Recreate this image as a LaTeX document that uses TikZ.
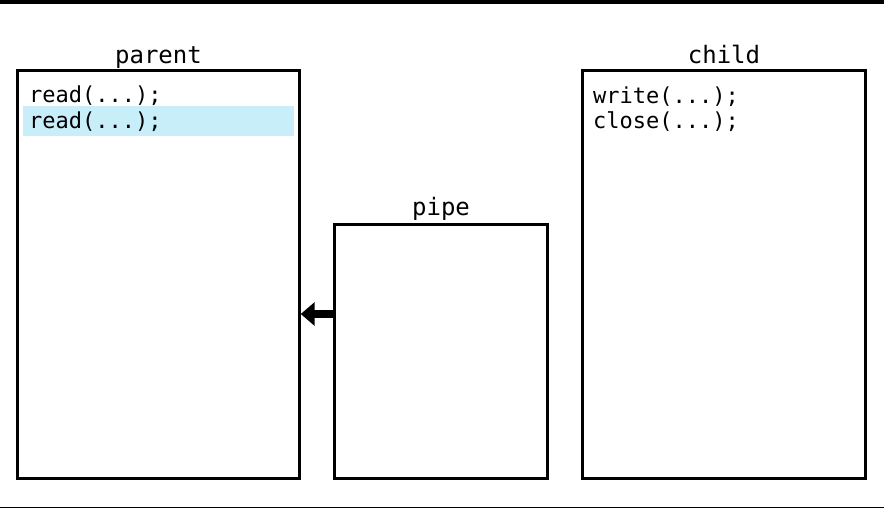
\documentclass[tikz,border=0pt]{standalone}
\usepackage{fontspec}
\setmonofont{DejaVu Sans Mono}
\usetikzlibrary{arrows.meta}
\definecolor{hl}{HTML}{C8EEFA}
\tikzset{
  box/.style={draw=black, line width=3pt, anchor=north west, inner sep=0pt, outer sep=0pt, fill=white},
  lbl/.style={font=\fontsize{24}{28}\selectfont\ttfamily, anchor=base, inner sep=0pt},
  code/.style={font=\fontsize{22}{26}\selectfont\ttfamily, anchor=base west, inner sep=0pt},
  flow/.style={line width=8pt, -{Triangle[length=14pt,width=23pt]}}
}
\begin{document}
\begin{tikzpicture}[x=1pt,y=-1pt]
\useasboundingbox (0,0) rectangle (884,509);
\fill[white] (0,0) rectangle (884,509);
\fill[black] (0,0) rectangle (884,3.5);
\draw[line width=1.5pt] (0,507.5) -- (884,507.5);
\node[box, minimum width=281.7pt, minimum height=408pt] (parent) at (17.5,70.8) {};
\node[box, minimum width=212.4pt, minimum height=254.1pt] (pipe) at (334.8,224.7) {};
\node[box, minimum width=283.3pt, minimum height=408pt] (child) at (582.5,70.8) {};
\node[lbl] (lparent) at (158.5,63) {parent};
\node[lbl] (lpipe) at (441,215) {pipe};
\node[lbl] (lchild) at (724,63) {child};
\fill[hl] (23,105.5) rectangle (294,136);
\node[code] (p1) at (29,102) {read(...);};
\node[code] (p2) at (29,128) {read(...);};
\node[code] (c1) at (593,103) {write(...);};
\node[code] (c2) at (593,128) {close(...);};
\coordinate (ay) at (0,314);
\draw[flow] (pipe.west |- ay) -- ([xshift=1.5pt]parent.east |- ay);
\end{tikzpicture}
\end{document}
